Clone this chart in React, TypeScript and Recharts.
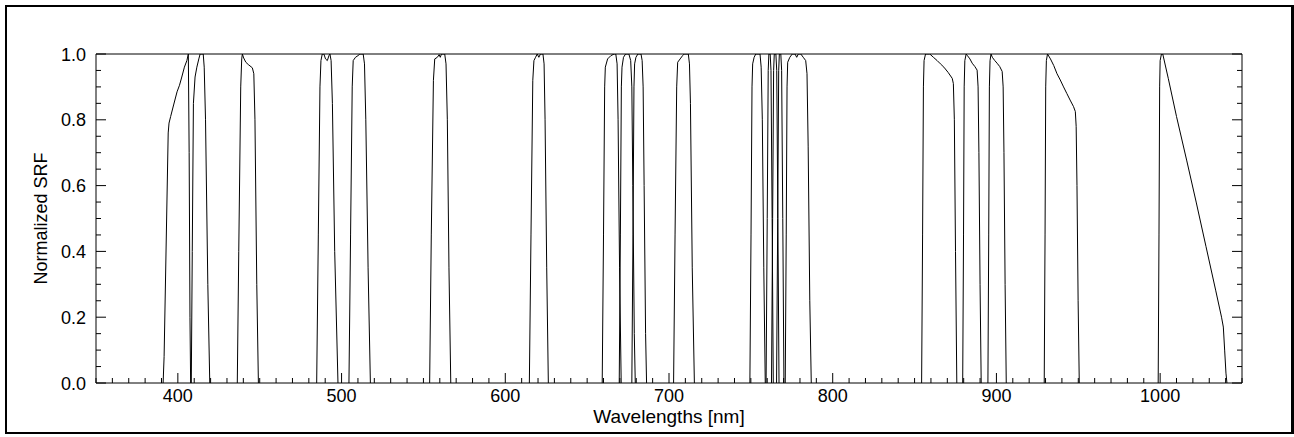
import React from 'react';
import { LineChart, Line, XAxis, YAxis, Label } from 'recharts';

// spectral response per band: [wavelength nm, normalized SRF]
const band01 = [[391.0, 0], [391.6, 0.08], [394.1, 0.76], [394.6, 0.79], [395.6, 0.81], [397.4, 0.845], [399.5, 0.885], [401.0, 0.905], [402.4, 0.93], [404.0, 0.96], [405.5, 0.98], [406.4, 1.0], [406.9, 0.7], [407.4, 0.2], [407.8, 0]];
const band02 = [[408.2, 0], [408.8, 0.4], [409.5, 0.85], [410.5, 0.93], [411.6, 0.96], [412.8, 0.985], [413.6, 1.0], [415.5, 1.0], [416.1, 0.96], [416.9, 0.8], [418.3, 0.3], [419.5, 0]];
const band03 = [[436.3, 0], [437.2, 0.4], [438.4, 0.9], [439.0, 0.985], [439.4, 1.0], [440.2, 0.988], [441.5, 0.975], [443.0, 0.968], [445.5, 0.958], [446.4, 0.94], [447.1, 0.8], [448.2, 0.3], [449.2, 0]];
const band04 = [[484.8, 0], [485.8, 0.45], [486.8, 0.9], [487.4, 0.98], [488.2, 1.0], [489.2, 1.0], [490.2, 0.985], [491.3, 0.98], [492.3, 0.995], [492.9, 1.0], [493.6, 0.98], [494.4, 0.85], [495.8, 0.4], [497.8, 0]];
const band05 = [[504.5, 0], [505.5, 0.45], [506.5, 0.9], [507.1, 0.98], [508.5, 0.99], [510.0, 0.995], [511.2, 1.0], [513.2, 1.0], [514.0, 0.97], [514.8, 0.8], [516.2, 0.35], [517.6, 0]];
const band06 = [[553.8, 0], [554.8, 0.45], [556.1, 0.92], [556.9, 0.985], [558.5, 0.99], [559.6, 0.998], [560.3, 0.99], [561.0, 1.0], [563.0, 1.0], [563.8, 0.97], [564.6, 0.8], [565.6, 0.35], [566.7, 0]];
const band07 = [[614.7, 0], [615.7, 0.45], [616.8, 0.92], [617.5, 0.98], [618.5, 0.99], [619.5, 1.0], [620.5, 0.99], [621.5, 1.0], [623.0, 1.0], [623.7, 0.97], [624.3, 0.8], [625.3, 0.35], [626.3, 0]];
const band08 = [[659.2, 0], [660.0, 0.45], [660.7, 0.9], [661.1, 0.96], [662.5, 0.985], [664.5, 0.995], [666.5, 1.0], [667.5, 1.0], [668.3, 0.97], [668.9, 0.8], [669.8, 0.35], [670.8, 0]];
const band09 = [[669.6, 0], [670.3, 0.45], [670.9, 0.9], [671.3, 0.96], [672.2, 0.99], [673.5, 1.0], [675.5, 1.0], [676.6, 0.98], [677.3, 0.9], [677.9, 0.6], [678.8, 0.15], [679.4, 0]];
const band10 = [[677.3, 0], [678.0, 0.45], [678.6, 0.9], [679.0, 0.97], [679.8, 0.99], [681.0, 1.0], [682.9, 1.0], [683.6, 0.98], [684.2, 0.9], [684.8, 0.6], [685.7, 0.15], [686.3, 0]];
const band11 = [[702.8, 0], [703.7, 0.45], [704.7, 0.9], [705.3, 0.975], [706.8, 0.985], [708.3, 0.995], [709.3, 1.0], [711.8, 1.0], [712.5, 0.97], [713.1, 0.85], [714.2, 0.35], [715.5, 0]];
const band12 = [[749.4, 0], [750.1, 0.45], [750.7, 0.9], [751.1, 0.97], [752.0, 0.99], [753.0, 1.0], [755.6, 1.0], [756.3, 0.96], [757.0, 0.8], [757.9, 0.35], [758.8, 0]];
const band13 = [[759.3, 0], [760.0, 0.5], [760.6, 0.95], [761.0, 1.0], [761.8, 1.0], [762.3, 0.95], [763.0, 0.5], [763.7, 0]];
const band14 = [[762.6, 0], [763.3, 0.5], [763.9, 0.95], [764.3, 1.0], [765.3, 1.0], [765.8, 0.95], [766.5, 0.5], [767.2, 0]];
const band15 = [[765.7, 0], [766.4, 0.5], [767.0, 0.95], [767.4, 1.0], [768.3, 1.0], [768.8, 0.95], [769.5, 0.5], [770.2, 0]];
const band16 = [[771.0, 0], [771.6, 0.45], [772.1, 0.9], [772.5, 0.975], [773.8, 0.99], [775.3, 1.0], [777.0, 1.0], [778.0, 0.99], [779.0, 1.0], [780.5, 1.0], [782.0, 0.99], [783.5, 0.98], [784.3, 0.94], [785.0, 0.72], [786.0, 0.25], [786.9, 0]];
const band17 = [[854.3, 0], [854.9, 0.45], [855.4, 0.9], [855.8, 0.98], [856.7, 1.0], [859.3, 1.0], [861.5, 0.99], [863.8, 0.98], [865.8, 0.97], [867.9, 0.96], [870.5, 0.944], [873.0, 0.926], [873.7, 0.91], [874.3, 0.8], [875.0, 0.4], [875.8, 0]];
const band18 = [[879.4, 0], [879.9, 0.45], [880.3, 0.9], [880.7, 0.98], [881.5, 1.0], [882.3, 0.995], [883.8, 0.985], [885.2, 0.972], [886.8, 0.962], [888.2, 0.951], [888.8, 0.9], [889.3, 0.7], [890.0, 0.3], [890.7, 0]];
const band19 = [[894.8, 0], [895.3, 0.45], [895.7, 0.9], [896.1, 0.98], [896.7, 1.0], [897.5, 0.99], [899.0, 0.98], [900.4, 0.972], [902.0, 0.962], [903.5, 0.947], [904.1, 0.9], [904.6, 0.7], [905.3, 0.3], [906.0, 0]];
const band20 = [[929.2, 0], [929.7, 0.45], [930.1, 0.9], [930.5, 0.98], [931.2, 1.0], [933.0, 0.985], [935.0, 0.965], [937.0, 0.94], [939.0, 0.921], [941.0, 0.9], [943.0, 0.88], [945.0, 0.86], [947.1, 0.84], [948.2, 0.825], [948.7, 0.78], [949.2, 0.6], [949.9, 0.25], [950.6, 0]];
const band21 = [[998.8, 0], [999.3, 0.45], [999.7, 0.9], [1000.0, 0.98], [1000.8, 1.0], [1001.6, 1.0], [1005.0, 0.925], [1010.0, 0.81], [1016.3, 0.675], [1022.0, 0.55], [1028.0, 0.415], [1034.0, 0.28], [1037.5, 0.2], [1038.6, 0.17], [1039.4, 0.1], [1040.2, 0.03], [1040.8, 0]];

const bands = [band01, band02, band03, band04, band05, band06, band07, band08, band09, band10, band11,
  band12, band13, band14, band15, band16, band17, band18, band19, band20, band21];

const xMajorTicks = [400, 500, 600, 700, 800, 900, 1000];
const xTicks = [350, 360, 370, 380, 390, 400, 410, 420, 430, 440, 450, 460, 470, 480, 490, 500,
  510, 520, 530, 540, 550, 560, 570, 580, 590, 600, 610, 620, 630, 640, 650, 660, 670, 680, 690, 700,
  710, 720, 730, 740, 750, 760, 770, 780, 790, 800, 810, 820, 830, 840, 850, 860, 870, 880, 890, 900,
  910, 920, 930, 940, 950, 960, 970, 980, 990, 1000, 1010, 1020, 1030, 1040, 1050];
const yMajorTicks = [0, 0.2, 0.4, 0.6, 0.8, 1.0];
const yTicks = [0, 0.05, 0.1, 0.15, 0.2, 0.25, 0.3, 0.35, 0.4, 0.45, 0.5, 0.55, 0.6, 0.65, 0.7, 0.75,
  0.8, 0.85, 0.9, 0.95, 1.0];

const FONT = '"Liberation Sans", Arial, Helvetica, sans-serif';
const MAJOR_LEN = 10;
const MINOR_LEN = 5;

const isMajorX = (v: number) => xMajorTicks.includes(v);
const isMajorY = (v: number) => yMajorTicks.some((t) => Math.abs(t - v) < 1e-6);

const BottomTick = ({ x, y, payload }: any) => {
  const major = isMajorX(payload.value);
  return (
    <g>
      <line x1={x} x2={x} y1={y} y2={y - (major ? MAJOR_LEN : MINOR_LEN)} stroke="#000" />
      {major && (
        <text x={x} y={y + 19} textAnchor="middle" fontSize={18} fontFamily={FONT} fill="#000">
          {payload.value}
        </text>
      )}
    </g>
  );
};

const TopTick = ({ x, y, payload }: any) => {
  const major = isMajorX(payload.value);
  return <line x1={x} x2={x} y1={y} y2={y + (major ? MAJOR_LEN : MINOR_LEN)} stroke="#000" />;
};

const LeftTick = ({ x, y, payload }: any) => {
  const major = isMajorY(payload.value);
  return (
    <g>
      <line x1={x} x2={x + (major ? MAJOR_LEN : MINOR_LEN)} y1={y} y2={y} stroke="#000" />
      {major && (
        <text x={x - 10} y={y + 6.5} textAnchor="end" fontSize={18} fontFamily={FONT} fill="#000">
          {payload.value.toFixed(1)}
        </text>
      )}
    </g>
  );
};

const RightTick = ({ x, y, payload }: any) => {
  const major = isMajorY(payload.value);
  return <line x1={x} x2={x - (major ? MAJOR_LEN : MINOR_LEN)} y1={y} y2={y} stroke="#000" />;
};

export default function App() {
  return (
    <div style={{ position: 'absolute', left: 0, top: 0, width: 1294, height: 437, background: '#fff' }}>
      <div
        style={{
          position: 'absolute', left: 5, top: 5, width: 1289, height: 429, boxSizing: 'border-box',
          borderLeft: '2px solid #000', borderTop: '2px solid #000', borderRight: '3px solid #000',
          borderBottom: '2px solid #000',
        }}
      />
      <div style={{ position: 'absolute', left: 0, top: 0 }}>
        <LineChart width={1294} height={437} margin={{ top: 44, right: 42, bottom: 0, left: 16 }}>
          <XAxis
            dataKey="wl"
            type="number"
            domain={[350, 1050]}
            ticks={xTicks}
            interval={0}
            allowDataOverflow
            height={54}
            tickSize={0}
            tickMargin={0}
            tick={<BottomTick />}
            axisLine={{ stroke: '#000' }}
          >
            <Label
              value="Wavelengths [nm]"
              position="insideBottom"
              offset={14}
              style={{ fontSize: 19, fontFamily: FONT, fill: '#000' }}
            />
          </XAxis>
          <XAxis
            xAxisId="top"
            orientation="top"
            type="number"
            domain={[350, 1050]}
            ticks={xTicks}
            interval={0}
            allowDataOverflow
            height={10}
            tickSize={0}
            tickMargin={0}
            tick={<TopTick />}
            axisLine={{ stroke: '#000' }}
          />
          <YAxis
            type="number"
            domain={[0, 1]}
            ticks={yTicks}
            interval={0}
            allowDataOverflow
            width={80}
            tickSize={0}
            tickMargin={0}
            tick={<LeftTick />}
            axisLine={{ stroke: '#000' }}
          >
            <Label
              value="Normalized SRF"
              angle={-90}
              position="insideLeft"
              offset={25}
              style={{ textAnchor: 'middle', fontSize: 18, fontFamily: FONT, fill: '#000' }}
            />
          </YAxis>
          <YAxis
            yAxisId="right"
            orientation="right"
            type="number"
            domain={[0, 1]}
            ticks={yTicks}
            interval={0}
            allowDataOverflow
            width={10}
            tickSize={0}
            tickMargin={0}
            tick={<RightTick />}
            axisLine={{ stroke: '#000' }}
          />
          {bands.map((band, i) => (
            <Line
              key={i}
              data={band.map(([wl, srf]) => ({ wl, srf }))}
              dataKey="srf"
              type="linear"
              stroke="#000"
              strokeWidth={1}
              dot={false}
              activeDot={false}
              isAnimationActive={false}
            />
          ))}
        </LineChart>
      </div>
    </div>
  );
}
